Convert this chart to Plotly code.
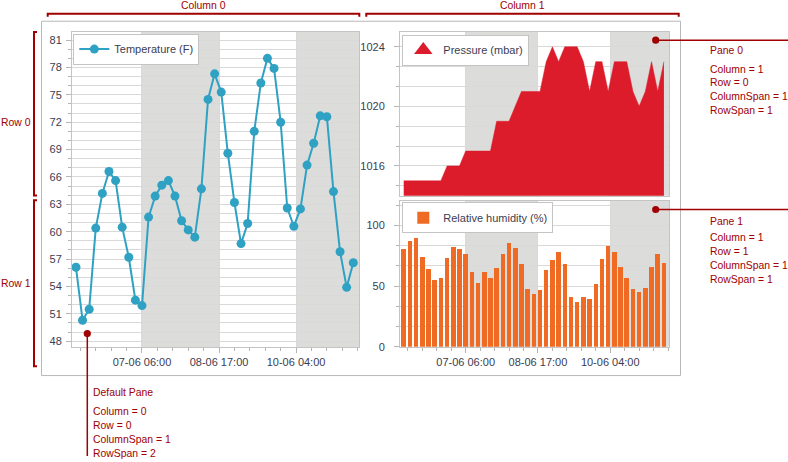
import pandas as pd
import plotly.graph_objects as go

# ---------------- data ----------------
times = pd.date_range("2017-06-06 00:00", periods=43, freq="3h")

temperature = [56.1, 50.3, 51.5, 60.4, 64.2, 66.6, 65.6, 60.5, 57.2, 52.5, 51.9,
               61.6, 63.9, 65.1, 65.6, 63.9, 61.2, 60.2, 59.4, 64.7, 74.5, 77.3,
               75.3, 68.6, 63.2, 58.7, 60.9, 71.0, 76.3, 79.0, 77.9, 72.0, 62.6,
               60.6, 62.5, 67.3, 69.7, 72.7, 72.6, 64.4, 57.8, 53.9, 56.6]

pressure = [1015, 1015, 1015, 1015, 1015, 1015, 1015, 1016, 1016, 1016, 1017,
            1017, 1017, 1017, 1017, 1019, 1019, 1019, 1020, 1021, 1021, 1021,
            1021, 1023, 1024, 1023, 1024, 1024, 1024, 1023, 1021, 1023, 1023,
            1021, 1023, 1023, 1023, 1021, 1020, 1021, 1023, 1021, 1023]

humidity = [81.0, 87.2, 89.7, 74.2, 64.4, 55.4, 57.3, 73.4, 82.3, 80.7, 76.6,
            62.0, 53.0, 62.0, 57.1, 65.2, 76.6, 85.6, 81.5, 68.5, 48.1, 44.0,
            47.3, 63.6, 71.7, 78.3, 68.5, 41.6, 37.5, 41.6, 39.9, 52.2, 72.6,
            83.2, 78.3, 66.0, 57.1, 48.1, 45.7, 48.9, 66.0, 76.6, 69.3]

series_names = ["Temperature (F)", "Pressure (mbar)", "Relative humidity (%)"]
band_edges = [("2017-06-07 06:00", "2017-06-08 17:00"),
              ("2017-06-10 04:00", "2017-06-11 09:00")]
x_range = ["2017-06-05 22:12", "2017-06-11 08:36"]
tick0 = "2017-06-07 06:00"

annot_blocks = {
    "Default Pane": ["Column = 0", "Row = 0", "ColumnSpan = 1", "RowSpan = 2"],
    "Pane 0": ["Column = 1", "Row = 0", "ColumnSpan = 1", "RowSpan = 1"],
    "Pane 1": ["Column = 1", "Row = 1", "ColumnSpan = 1", "RowSpan = 1"],
}

# ---------------- style ----------------
W, H = 788, 462
FONT = "Liberation Sans, Arial, sans-serif"
TEMP_C = "#2fa1c3"
RED_C = "#dc1c2b"
ORANGE_C = "#ef6a22"
BAND_C = "#dcdddb"
GRID_C = "#d9d9d9"
BORDER_C = "#c4c4c4"
TICK_C = "#b4b4b4"
LABEL_C = "#3c3c50"
ANN_C = "#a00000"


def X(px):
    return px / W


def Y(py):
    return 1 - py / H


HOUR = 3600 * 1000

fig = go.Figure()

fig.add_trace(go.Scatter(
    x=times, y=temperature, mode="lines+markers", name=series_names[0],
    line=dict(color=TEMP_C, width=2), marker=dict(size=9, color=TEMP_C),
    xaxis="x", yaxis="y", legend="legend"))

fig.add_trace(go.Scatter(
    x=times, y=pressure, mode="lines", fill="tozeroy", showlegend=False,
    line=dict(color=RED_C, width=0.5), fillcolor=RED_C,
    xaxis="x2", yaxis="y2"))
fig.add_trace(go.Scatter(
    x=[None], y=[None], mode="markers", name=series_names[1],
    marker=dict(symbol="triangle-up", size=16, color=RED_C),
    xaxis="x2", yaxis="y2", legend="legend2"))

fig.add_trace(go.Bar(
    x=times, y=humidity, name=series_names[2], width=2.2 * HOUR,
    marker=dict(color=ORANGE_C, line=dict(width=0)),
    xaxis="x3", yaxis="y3", legend="legend3"))

tickfont = dict(family=FONT, size=11, color=LABEL_C)


def xaxis_cfg(domain, anchor, labels=True):
    return dict(
        domain=domain, anchor=anchor, type="date", range=x_range,
        tickformat="%d-%m %H:%M", tick0=tick0, dtick=35 * HOUR,
        ticks="outside" if labels else "", ticklen=5, tickcolor=TICK_C,
        showticklabels=labels, tickfont=tickfont,
        showgrid=True, gridcolor=GRID_C, gridwidth=1,
        showline=True, linecolor=BORDER_C, mirror=True, zeroline=False,
        minor=dict(dtick=7 * HOUR, tick0=tick0, ticks="outside" if labels else "",
                   ticklen=3, tickcolor=TICK_C, showgrid=False),
        fixedrange=True)


def yaxis_cfg(domain, anchor, rng, t0, dt, mdt, standoff=0):
    return dict(
        domain=domain, anchor=anchor, range=rng, tick0=t0, dtick=dt,
        ticks="outside", ticklen=5, tickcolor=TICK_C, tickfont=tickfont,
        ticklabelstandoff=standoff,
        showgrid=True, gridcolor=GRID_C, gridwidth=1,
        showline=True, linecolor=BORDER_C, mirror=True, zeroline=False,
        minor=dict(dtick=mdt, tick0=t0, ticks="outside", ticklen=3,
                   tickcolor=TICK_C, showgrid=True, gridcolor=GRID_C),
        fixedrange=True)


left_x = [X(72), X(359)]
right_x = [X(400), X(669.3)]

layout = dict(
    width=W, height=H, margin=dict(l=0, r=0, t=0, b=0),
    paper_bgcolor="white", plot_bgcolor="white",
    font=dict(family=FONT, size=11, color=LABEL_C),
    bargap=0,
    xaxis=xaxis_cfg(left_x, "y"),
    yaxis=yaxis_cfg([Y(351.7), Y(32.3)], "x", [47.35, 81.9], 48, 3, 1, 2),
    xaxis2=xaxis_cfg(right_x, "y2", labels=False),
    yaxis2=yaxis_cfg([Y(198.3), Y(32.3)], "x2", [1014, 1025], 1016, 4, 4 / 3, 7),
    xaxis3=xaxis_cfg(right_x, "y3"),
    yaxis3=yaxis_cfg([Y(351.3), Y(203.3)], "x3", [0, 120.4], 0, 50, 50 / 3, 7),
)

leg_common = dict(xanchor="left", yanchor="top", bgcolor="white",
                  bordercolor=BORDER_C, borderwidth=1, itemwidth=30,
                  font=dict(family=FONT, size=11, color=LABEL_C))
layout["legend"] = dict(x=X(73.3), y=Y(34), **leg_common)
layout["legend2"] = dict(x=X(402.3), y=Y(35), **leg_common)
layout["legend3"] = dict(x=X(402.3), y=Y(205), **leg_common)
layout["showlegend"] = True

fig.update_layout(**layout)

# interlaced bands
for xr, yr in (("x", "y"), ("x2", "y2"), ("x3", "y3")):
    for a, b in band_edges:
        fig.add_shape(type="rect", xref=xr, yref=yr + " domain", x0=a, x1=b,
                      y0=0, y1=1, fillcolor=BAND_C, line=dict(width=0),
                      layer="below")

# outer chart border
fig.add_shape(type="rect", xref="paper", yref="paper",
              x0=X(41.5), x1=X(680.5), y0=Y(380.5), y1=Y(21.5),
              line=dict(color="#b8b8b8", width=1))


def path(points):
    return "M " + " L ".join(f"{X(a)},{Y(b)}" for a, b in points)


bracket = dict(color=ANN_C, width=2)
for pts in ([(47.7, 17), (47.7, 14), (359.3, 14), (359.3, 17)],
            [(366.3, 17), (366.3, 14), (678.7, 14), (678.7, 17)],
            [(37, 32.5), (34, 32.5), (34, 198), (37, 198)],
            [(37, 203), (34, 203), (34, 371), (37, 371)]):
    fig.add_shape(type="path", xref="paper", yref="paper", path=path(pts),
                  line=bracket)

# pointer lines and dots
thin = dict(color=ANN_C, width=1.5)
fig.add_shape(type="line", xref="paper", yref="paper",
              x0=X(87.3), x1=X(87.3), y0=Y(338), y1=Y(462), line=thin)
for yy in (40.7, 212.3):
    fig.add_shape(type="line", xref="paper", yref="paper",
                  x0=X(655.7), x1=X(788), y0=Y(yy), y1=Y(yy), line=thin)
for cx, cy in ((87.3, 338), (655.7, 40.7), (655.7, 212.3)):
    r = 3.6
    fig.add_shape(type="circle", xref="paper", yref="paper",
                  x0=X(cx - r), x1=X(cx + r), y0=Y(cy + r), y1=Y(cy - r),
                  fillcolor=ANN_C, line=dict(color=ANN_C, width=0))

ann_font = dict(family=FONT, size=10.4, color=ANN_C)


def text(x, y, s, anchor="left"):
    fig.add_annotation(x=X(x), y=Y(y), xref="paper", yref="paper", text=s,
                       showarrow=False, xanchor=anchor, yanchor="middle",
                       font=ann_font, borderpad=0)


text(203, 6, "Column 0", "center")
text(522.7, 6, "Column 1", "center")
text(0, 124.5, "Row 0")
text(0, 287, "Row 1")

block_pos = {"Default Pane": (91.7, [398, 417, 431, 445, 459]),
             "Pane 0": (709, [51, 70, 84, 98, 112]),
             "Pane 1": (709, [224, 241, 255, 269, 283])}
for title, lines in annot_blocks.items():
    bx, ys = block_pos[title]
    for s, yy in zip([title] + lines, ys):
        text(bx, yy, s)

fig.write_html("out.html")
